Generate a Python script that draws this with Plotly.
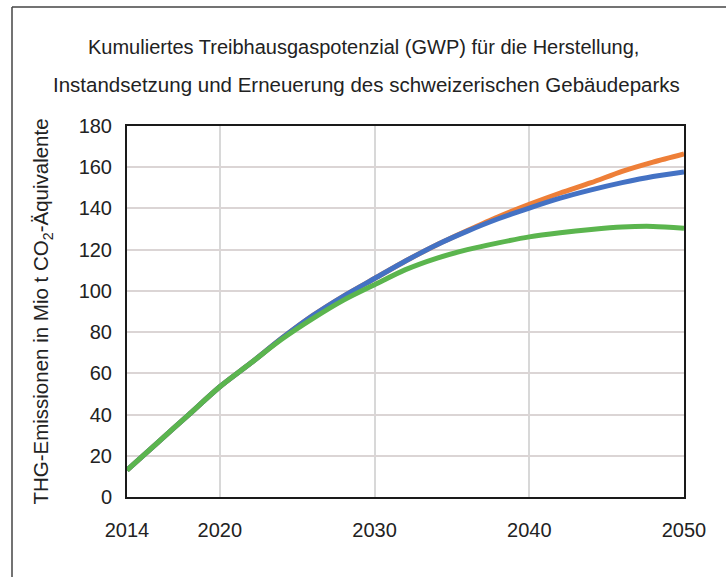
import plotly.graph_objects as go

years = [2014, 2016, 2018, 2020, 2022, 2024, 2026, 2028, 2030, 2032,
         2034, 2036, 2038, 2040, 2042, 2044, 2046, 2048, 2050]
orange_vals = [13, 26.5, 40, 53.5, 65, 77, 88, 97.5, 106, 114.5,
               122.3, 129.3, 136, 142, 147.5, 152.5, 158, 162.5, 166.5]
blue_vals = [13, 26.5, 40, 53.5, 65, 77, 88, 97.5, 106, 114.5,
             122.3, 129, 135, 140.2, 145, 149, 152.5, 155.5, 157.7]
green_vals = [13, 26.5, 40, 53.5, 65, 76.5, 86.5, 95.5, 103, 110.3,
              115.8, 120, 123.3, 126.2, 128.2, 129.8, 131, 131.3, 130.4]

x_ticks = [2014, 2020, 2030, 2040, 2050]
y_ticks = [0, 20, 40, 60, 80, 100, 120, 140, 160, 180]

title_line1 = "Kumuliertes Treibhausgaspotenzial (GWP) für die Herstellung,"
title_line2 = "Instandsetzung und Erneuerung des schweizerischen Gebäudeparks"
y_title = "THG-Emissionen in Mio t CO<sub>2</sub>-Äquivalente"

FONT = "Liberation Sans, Arial, sans-serif"

fig = go.Figure()
for vals, col in [(orange_vals, "#EE7F38"), (blue_vals, "#4472C4"), (green_vals, "#5BB54E")]:
    fig.add_trace(go.Scatter(x=years, y=vals, mode="lines",
                             line=dict(color=col, width=5, shape="spline", smoothing=0.8),
                             showlegend=False, hoverinfo="skip"))

W, H = 726, 577
L, R, T, B = 127, 42, 126, 80
pw, ph = W - L - R, H - T - B

def px(x):
    return (x - L) / pw

def py(y):
    return (H - B - y) / ph

fig.update_layout(
    width=W, height=H,
    margin=dict(l=L, r=R, t=T, b=B),
    paper_bgcolor="white", plot_bgcolor="white",
    font=dict(family=FONT, size=20, color="#222222"),
    xaxis=dict(range=[2014, 2050], tickvals=x_ticks, ticktext=[str(v) for v in x_ticks],
               showgrid=True, gridcolor="#d8d8d8", gridwidth=1.5,
               showline=True, linecolor="#1a1a1a", linewidth=2, mirror=True,
               ticks="outside", ticklen=14, tickcolor="rgba(0,0,0,0)",
               zeroline=False, tickfont=dict(size=20)),
    yaxis=dict(range=[0, 180], tickvals=y_ticks,
               showgrid=True, gridcolor="#dbd5d5", gridwidth=2,
               showline=True, linecolor="#1a1a1a", linewidth=2, mirror=True,
               ticks="outside", ticklen=9, tickcolor="rgba(0,0,0,0)",
               zeroline=False, tickfont=dict(size=20),
               title=dict(text=y_title, font=dict(size=20.5), standoff=24)),
    annotations=[
        dict(text=title_line1, xref="paper", yref="paper", x=px(363), y=py(47),
             xanchor="center", yanchor="middle", showarrow=False,
             font=dict(size=20, family=FONT, color="#222222")),
        dict(text=title_line2, xref="paper", yref="paper", x=px(366), y=py(85),
             xanchor="center", yanchor="middle", showarrow=False,
             font=dict(size=20.5, family=FONT, color="#222222")),
    ],
    shapes=[
        dict(type="line", xref="paper", yref="paper", x0=px(12), x1=px(740),
             y0=py(7), y1=py(7), line=dict(color="#444444", width=1.5)),
        dict(type="line", xref="paper", yref="paper", x0=px(12), x1=px(12),
             y0=py(7), y1=py(600), line=dict(color="#444444", width=1.5)),
    ],
)

fig.write_html(
    "out.html",
    config={"displayModeBar": False},
    post_script="document.body.style.margin='0';document.body.style.padding='0';"
                "document.documentElement.style.overflow='hidden';document.body.style.overflow='hidden';",
)
